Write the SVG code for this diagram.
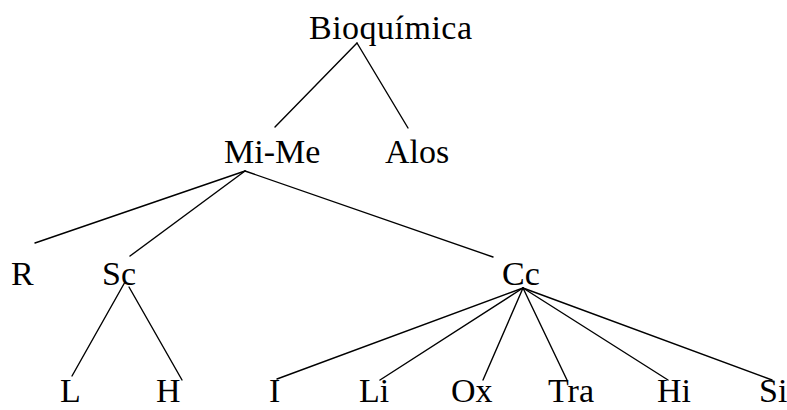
<svg xmlns="http://www.w3.org/2000/svg" width="787" height="410" viewBox="0 0 787 410">
<style>
text{font-family:"Liberation Serif","Times New Roman",serif;font-size:34px;fill:#000}
.e line{stroke:#000;stroke-width:1.4;stroke-linecap:round}
</style>
<rect width="787" height="410" fill="#fff"/>
<g class="e" id="connectors">
<line x1="357" y1="43" x2="275" y2="127"/>
<line x1="357" y1="43" x2="408" y2="128"/>
<line x1="245" y1="171" x2="35" y2="243"/>
<line x1="245" y1="171" x2="130" y2="256"/>
<line x1="245" y1="171" x2="493" y2="257"/>
<line x1="125" y1="282" x2="72" y2="376"/>
<line x1="129" y1="287" x2="182" y2="380"/>
<line x1="523" y1="288" x2="277" y2="379"/>
<line x1="523" y1="288" x2="380" y2="380"/>
<line x1="523" y1="288" x2="483" y2="380"/>
<line x1="523" y1="288" x2="567" y2="380"/>
<line x1="523" y1="288" x2="668" y2="380"/>
<line x1="523" y1="288" x2="772" y2="380"/>
</g>
<g id="n-bioquimica"><text x="309" y="39" textLength="163">Bioquímica</text></g>
<g id="n-mime"><text x="224" y="163">Mi-Me</text></g>
<g id="n-alos"><text x="385" y="163">Alos</text></g>
<g id="n-r"><text x="11" y="285">R</text></g>
<g id="n-sc"><text x="102" y="285">Sc</text></g>
<g id="n-cc"><text x="502" y="285">Cc</text></g>
<g id="n-l"><text x="60" y="402">L</text></g>
<g id="n-h"><text x="156" y="402">H</text></g>
<g id="n-i"><text x="269" y="402">I</text></g>
<g id="n-li"><text x="359" y="402">Li</text></g>
<g id="n-ox"><text x="451" y="402">Ox</text></g>
<g id="n-tra"><text x="548" y="402">Tra</text></g>
<g id="n-hi"><text x="657" y="402">Hi</text></g>
<g id="n-si"><text x="759" y="402">Si</text></g>
</svg>
